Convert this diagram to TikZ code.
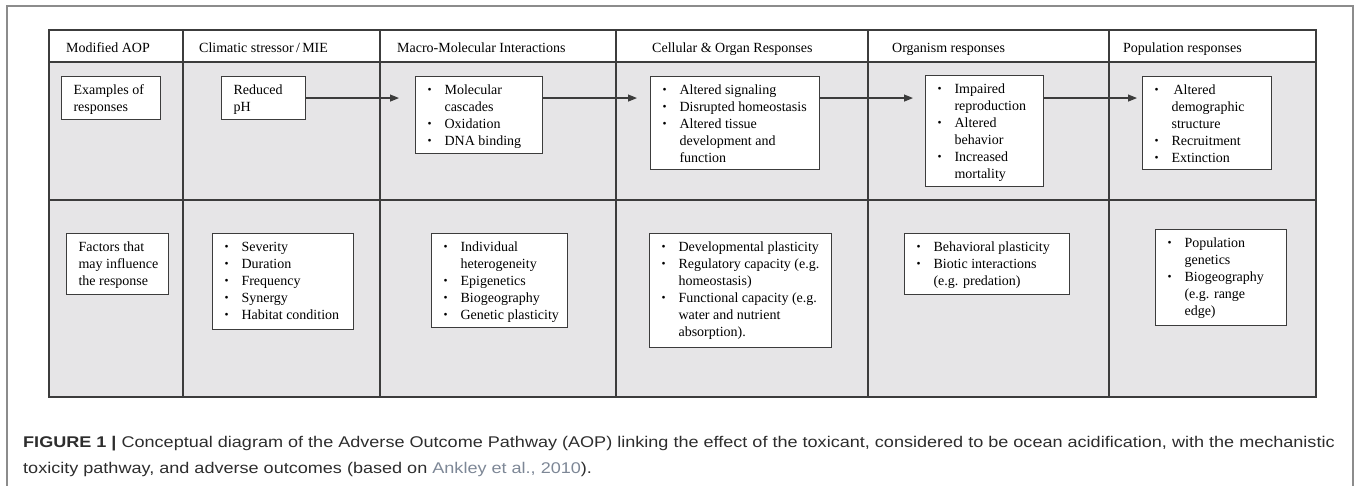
\documentclass[tikz,border=0pt]{standalone}
\usepackage{fontspec}
\setmainfont{Liberation Serif}
\newfontfamily\capfont[FakeStretch=1.165]{Liberation Sans}
\usetikzlibrary{arrows.meta}

\definecolor{cellgray}{RGB}{230,229,231}
\definecolor{rulegray}{RGB}{60,60,60}
\definecolor{framegray}{RGB}{140,140,140}
\definecolor{captext}{RGB}{45,45,45}
\definecolor{linkgray}{RGB}{125,135,150}

\newcommand{\cellfont}{\fontsize{14}{17}\selectfont}
\newcommand{\bul}{\makebox[17pt][l]{\raisebox{1pt}{\fontsize{11.5}{11.5}\selectfont\textbullet}}}
% box of given width and height, text set at its top left
\newcommand{\inbox}[3]{\parbox[t][\dimexpr#2pt-13pt\relax][t]{\dimexpr#1pt-24pt\relax}{\cellfont#3}}
\newcommand{\plain}[1]{\begin{tabular}{@{}l@{}}#1\end{tabular}}
\newcommand{\blist}[1]{\begin{tabular}{@{}l@{}l@{}}#1\end{tabular}}

\begin{document}
\begin{tikzpicture}[x=1pt, y=-1pt,
    grid/.style={draw=rulegray, line width=1.1pt},
    box/.style={draw=rulegray, fill=white, line width=1.1pt, anchor=north west,
        inner xsep=12pt, inner ysep=6.5pt},
    head/.style={anchor=base west, inner sep=0pt, font=\cellfont},
    flow/.style={-{Triangle[length=9pt,width=7pt]}, draw=rulegray, line width=1.1pt}]

    \useasboundingbox (0,0) rectangle (1357,486);
    \draw[framegray, line width=1.6pt] (7,486) -- (7,6) -- (1353,6) -- (1353,486);

    % table
    \fill[cellgray] (49,62) rectangle (1316,397);
    \draw[grid] (49,30) rectangle (1316,397);
    \draw[grid] (49,62) -- (1316,62);
    \draw[grid] (49,200) -- (1316,200);
    \foreach \x in {183,380,616,868,1109}
        \draw[grid] (\x,30) -- (\x,397);

    \foreach \x/\t [count=\i] in {66/Modified AOP, 199/{Climatic stressor\,/\,MIE},
        397/Macro-Molecular Interactions, 652/Cellular \& Organ Responses,
        892/Organism responses, 1123/Population responses}
        \node[head] (h\i) at (\x,53) {\t};

    % examples of responses
    \node[box] (exam) at (61,76) {\inbox{99}{43}{\plain{Examples of\\responses}}};
    \node[box] (ph) at (221,76) {\inbox{84}{43}{\plain{Reduced\\pH}}};
    \node[box] (macro) at (415,76) {\inbox{127}{77}{\blist{\bul & Molecular\\ & cascades\\
        \bul & Oxidation\\ \bul & DNA binding}}};
    \node[box] (cell) at (650,76) {\inbox{169}{93}{\blist{\bul & Altered signaling\\
        \bul & Disrupted homeostasis\\ \bul & Altered tissue\\ & development and\\ & function}}};
    \node[box] (organ) at (925,75) {\inbox{118}{111}{\blist{\bul & Impaired\\ & reproduction\\
        \bul & Altered\\ & behavior\\ \bul & Increased\\ & mortality}}};
    \node[box] (popul) at (1142,76) {\inbox{129}{93}{\blist{\bul & \hspace{2pt}Altered\\
        & demographic\\ & structure\\ \bul & Recruitment\\ \bul & Extinction}}};

    % factors
    \node[box] (fact) at (66,233) {\inbox{102}{61}{\plain{Factors that\\may influence\\the response}}};
    \node[box] (stress) at (212,233) {\inbox{141}{96}{\blist{\bul & Severity\\ \bul & Duration\\
        \bul & Frequency\\ \bul & Synergy\\ \bul & Habitat condition}}};
    \node[box] (macrof) at (431,233) {\inbox{136}{94}{\blist{\bul & Individual\\ & heterogeneity\\
        \bul & Epigenetics\\ \bul & Biogeography\\ \bul & Genetic plasticity}}};
    \node[box] (cellf) at (649,233) {\inbox{182}{114}{\blist{\bul & Developmental plasticity\\
        \bul & Regulatory capacity (e.g.\\ & homeostasis)\\ \bul & Functional capacity (e.g.\\
        & water and nutrient\\ & absorption).}}};
    \node[box] (organf) at (904,233) {\inbox{165}{61}{\blist{\bul & Behavioral plasticity\\
        \bul & Biotic interactions\\ & (e.g. predation)}}};
    \node[box] (populf) at (1155,229) {\inbox{131}{96}{\blist{\bul & Population\\ & genetics\\
        \bul & Biogeography\\ & (e.g. range\\ & edge)}}};

    \foreach \a/\b/\s in {ph/macro/16, macro/cell/13, cell/organ/12, organ/popul/5}
        \draw[flow, shorten >=\s pt] (ph.east -| \a.east) -- (ph.east -| \b.west);

    \node[anchor=base west, inner sep=0pt, align=left, text=captext,
        font=\capfont\fontsize{15.5}{26}\selectfont] (cap) at (23,473)
        {\textbf{FIGURE 1 |} Conceptual diagram of the Adverse Outcome Pathway (AOP) linking the effect of the toxicant, considered to be ocean acidification, with the mechanistic\\
        toxicity pathway, and adverse outcomes (based on \textcolor{linkgray}{Ankley et al., 2010}).};
\end{tikzpicture}
\end{document}
